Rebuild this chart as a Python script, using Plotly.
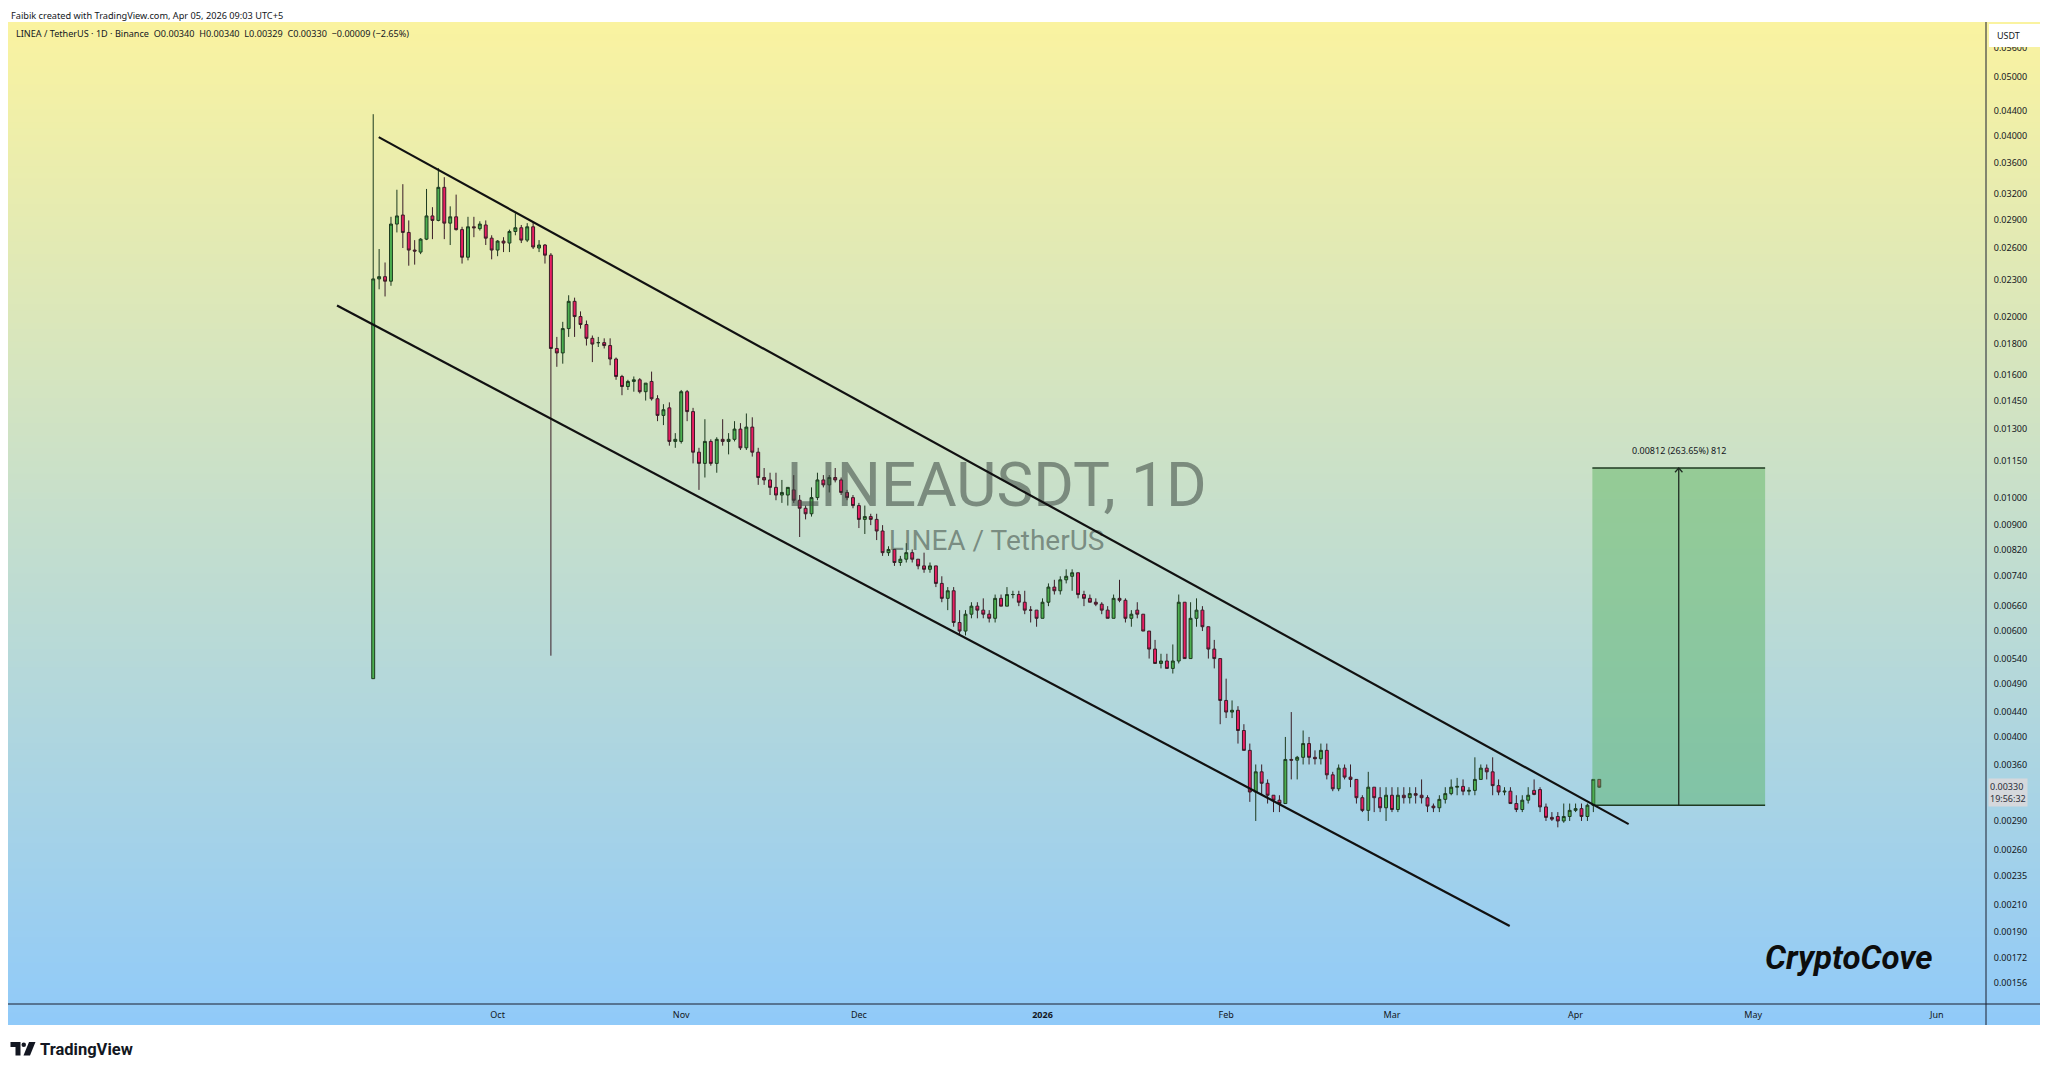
import numpy as np
import pandas as pd
import plotly.graph_objects as go

# ---------------- data ----------------
dates = pd.date_range("2025-09-10", periods=208, freq="D")

open_ = [0.00500,0.0231,0.0233,0.0229,0.0285,0.0295,0.0276,0.0258,0.0256,0.0269,
         0.0294,0.0289,0.0328,0.0286,0.0293,0.0279,0.0251,0.0282,0.0280,0.0284,
         0.0270,0.0258,0.0267,0.0265,0.0277,0.0281,0.0268,0.0282,0.0260,0.0263,
         0.0253,0.0177,0.0174,0.0191,0.0212,0.0200,0.0194,0.0184,0.0181,0.0181,
         0.0179,0.0170,0.0159,0.0153,0.0156,0.0157,0.0150,0.0156,0.0146,0.0137,
         0.0141,0.0124,0.0124,0.0150,0.0139,0.0119,0.0114,0.0124,0.0114,0.0125,
         0.0124,0.0125,0.0130,0.0121,0.0131,0.0119,0.0108,0.0107,0.0104,0.0101,
         0.0101,0.0103,0.0099,0.0096,0.0094,0.0100,0.0107,0.0105,0.0108,0.0107,
         0.0102,0.0100,0.0097,0.0092,0.0093,0.0092,0.0088,0.0081,0.0082,0.0078,
         0.0079,0.0081,0.0079,0.0077,0.0076,0.0077,0.0072,0.0068,0.0070,0.0062,
         0.0060,0.0064,0.0066,0.0065,0.0064,0.0063,0.0068,0.0066,0.0069,0.0069,
         0.0067,0.0065,0.0065,0.0063,0.0067,0.0071,0.0070,0.0073,0.0074,0.0075,
         0.0069,0.0068,0.0067,0.00665,0.0065,0.0063,0.0068,0.00675,0.0063,0.0065,
         0.0064,0.0060,0.0056,0.0053,0.00535,0.0052,0.00535,0.0067,0.0054,0.0063,
         0.0065,0.0061,0.0056,0.0054,0.0046,0.0044,0.00443,0.0041,0.0038,0.00324,
         0.0035,0.00335,0.0032,0.00314,0.0031,0.00367,0.00366,0.0037,0.0039,0.0037,
         0.00368,0.0038,0.00346,0.00328,0.00355,0.00343,0.0034,0.00317,0.00302,0.0033,
         0.00317,0.00305,0.0032,0.00303,0.0032,0.00317,0.00322,0.0032,0.00317,0.00307,
         0.00305,0.00315,0.00322,0.0033,0.00331,0.00325,0.00326,0.0034,0.00355,0.0035,
         0.00332,0.00324,0.00325,0.0031,0.00303,0.00314,0.00326,0.00327,0.00306,0.00294,
         0.00295,0.0029,0.00295,0.00302,0.00304,0.00295,0.00308,0.0034]

high = [0.0434,0.0259,0.0246,0.0293,0.0325,0.0332,0.0289,0.0268,0.0270,0.0326,
        0.0304,0.0353,0.0341,0.0305,0.0319,0.0282,0.0293,0.0293,0.0288,0.0289,
        0.0273,0.0268,0.0271,0.0279,0.0297,0.0284,0.0286,0.0287,0.0268,0.0264,
        0.0255,0.0185,0.0196,0.0217,0.0215,0.0204,0.0197,0.0186,0.0185,0.0184,
        0.0184,0.0171,0.0160,0.0157,0.0159,0.0158,0.0155,0.0162,0.0148,0.0143,
        0.0144,0.0128,0.0151,0.0151,0.0141,0.0121,0.0135,0.0125,0.0126,0.0135,
        0.0128,0.0134,0.0133,0.0138,0.0136,0.0121,0.0112,0.0110,0.0110,0.0107,
        0.0104,0.0109,0.0101,0.0097,0.0104,0.0110,0.0109,0.0109,0.0112,0.0108,
        0.0103,0.0101,0.0098,0.0097,0.0094,0.0094,0.0090,0.0083,0.0082,0.0080,
        0.0084,0.0082,0.0079,0.0081,0.0078,0.0077,0.0074,0.0071,0.0071,0.0065,
        0.0065,0.0067,0.0067,0.0068,0.0065,0.0069,0.0069,0.0071,0.0070,0.0070,
        0.0070,0.0066,0.0065,0.0068,0.0072,0.0073,0.0074,0.0076,0.0076,0.0075,
        0.0070,0.0069,0.0068,0.0067,0.0066,0.0069,0.0073,0.0068,0.0065,0.0067,
        0.0064,0.0060,0.0058,0.0055,0.0055,0.0057,0.0069,0.0067,0.0067,0.0068,
        0.0066,0.0061,0.0058,0.0054,0.0050,0.0046,0.0045,0.0042,0.0039,0.0036,
        0.0036,0.0034,0.0032,0.0032,0.0040,0.0044,0.00372,0.0041,0.0040,0.0038,
        0.0039,0.0039,0.0035,0.0036,0.0036,0.0036,0.0034,0.0032,0.0035,0.0033,
        0.0033,0.0033,0.0033,0.0033,0.0033,0.0033,0.0033,0.0034,0.0032,0.0031,
        0.0032,0.0033,0.0034,0.00342,0.0034,0.0033,0.0037,0.0036,0.0036,0.0037,
        0.0034,0.0033,0.0033,0.0032,0.0032,0.0033,0.0034,0.0033,0.0031,0.0030,
        0.0030,0.0031,0.0031,0.0031,0.0031,0.0031,0.0034,0.0034]

low = [0.00500,0.0222,0.0216,0.0225,0.0276,0.0260,0.0243,0.0244,0.0254,0.0268,
       0.0269,0.0288,0.0269,0.0263,0.0278,0.0245,0.0248,0.0271,0.0278,0.0263,
       0.0249,0.0252,0.0256,0.0256,0.0273,0.0265,0.0266,0.0259,0.0256,0.0245,
       0.00546,0.0165,0.0167,0.0185,0.0185,0.0191,0.0179,0.0168,0.0178,0.0177,
       0.0166,0.0157,0.0148,0.0151,0.0150,0.0149,0.0145,0.0145,0.0134,0.0132,
       0.0122,0.0121,0.0123,0.0134,0.0114,0.0103,0.0108,0.0113,0.0110,0.0122,
       0.0118,0.0124,0.0120,0.0120,0.0117,0.0105,0.0105,0.0101,0.0099,0.0098,
       0.0097,0.0098,0.0086,0.0092,0.0093,0.0099,0.0104,0.0102,0.0106,0.0101,
       0.0099,0.0096,0.0089,0.0087,0.0090,0.0085,0.0080,0.0080,0.0077,0.0077,
       0.0078,0.0078,0.0076,0.0075,0.0075,0.0071,0.0067,0.0065,0.0061,0.0059,
       0.0059,0.0063,0.0063,0.0063,0.0062,0.0062,0.0066,0.0066,0.0068,0.0066,
       0.0064,0.0062,0.0061,0.0063,0.0066,0.0069,0.0069,0.0072,0.0070,0.0068,
       0.0066,0.0067,0.0066,0.0064,0.0063,0.0063,0.0067,0.0062,0.0061,0.0063,
       0.0060,0.0054,0.0053,0.0052,0.0052,0.0051,0.0053,0.0054,0.0054,0.0061,
       0.0060,0.0054,0.0052,0.0042,0.0043,0.0043,0.0039,0.0038,0.00312,0.0029,
       0.0032,0.0031,0.0030,0.0030,0.0031,0.0034,0.0034,0.0036,0.0036,0.0036,
       0.0036,0.0034,0.00325,0.00325,0.0034,0.0033,0.0031,0.0030,0.0029,0.0030,
       0.0030,0.0029,0.0030,0.0030,0.0031,0.0031,0.0031,0.0031,0.0030,0.0030,
       0.0030,0.0031,0.0032,0.0032,0.0032,0.0032,0.0032,0.0034,0.0034,0.0032,
       0.0032,0.0032,0.0031,0.0030,0.0030,0.0031,0.0032,0.0030,0.0029,0.0029,
       0.00283,0.00288,0.0029,0.0030,0.0029,0.0029,0.0030,0.00329]

close = [0.0231,0.0233,0.0229,0.0285,0.0294,0.0276,0.0258,0.0257,0.0269,0.0294,
         0.0289,0.0328,0.0286,0.0293,0.0279,0.0251,0.0282,0.0281,0.0285,0.0270,
         0.0258,0.0267,0.0265,0.0277,0.0281,0.0268,0.0282,0.0261,0.0263,0.0253,
         0.0177,0.0174,0.0191,0.0212,0.0200,0.0194,0.0184,0.0180,0.0181,0.0179,
         0.0170,0.0159,0.0153,0.0156,0.0157,0.0150,0.0155,0.0146,0.0137,0.0140,
         0.0124,0.0125,0.0150,0.0139,0.0119,0.0114,0.0124,0.0114,0.0125,0.0124,
         0.0125,0.0130,0.0121,0.0131,0.0119,0.0108,0.0107,0.0104,0.0101,0.0102,
         0.0104,0.0099,0.0096,0.0094,0.0100,0.0107,0.0105,0.0108,0.0107,0.0102,
         0.0100,0.0097,0.0092,0.0093,0.0092,0.0088,0.0081,0.0082,0.0078,0.0079,
         0.0081,0.0079,0.0077,0.0076,0.0077,0.0072,0.0068,0.0070,0.0062,0.0060,
         0.0064,0.0066,0.0065,0.0064,0.0063,0.0068,0.0066,0.0069,0.0069,0.0067,
         0.0065,0.0065,0.0063,0.0067,0.0071,0.0070,0.0073,0.0074,0.0075,0.0069,
         0.0068,0.0067,0.00665,0.0065,0.0063,0.0068,0.00675,0.0063,0.0064,0.0064,
         0.0060,0.0056,0.0053,0.00535,0.0052,0.00535,0.0067,0.0054,0.0063,0.0065,
         0.0061,0.0056,0.0054,0.0046,0.0044,0.00443,0.0041,0.0038,0.00324,0.0035,
         0.00335,0.0032,0.00314,0.0031,0.00367,0.00366,0.0037,0.0039,0.0037,0.00368,
         0.0038,0.00346,0.00328,0.00355,0.00343,0.0034,0.00317,0.00302,0.0033,0.00317,
         0.00305,0.0032,0.00303,0.0032,0.00317,0.00322,0.0032,0.00317,0.00307,0.00305,
         0.00315,0.00322,0.0033,0.00331,0.00325,0.00326,0.0034,0.00355,0.0035,0.00332,
         0.00324,0.00325,0.0031,0.00303,0.00314,0.0032,0.00321,0.00306,0.00294,0.00292,
         0.0029,0.00295,0.00302,0.00304,0.00295,0.00308,0.0034,0.0033]

# channel (trend lines) drawn on the chart
upper_line_dates = ["2025-09-10 22:20", "2026-04-09 23:00"]
upper_line_prices = [0.03975, 0.002865]
lower_line_dates = ["2025-09-03 21:20", "2026-03-20 21:00"]
lower_line_prices = [0.02086, 0.001940]

# price-range measurement box
range_dates = ["2026-04-03 20:00", "2026-05-03 00:00"]
range_prices = [0.00308, 0.01120]
range_label = "0.00812 (263.65%) 812"

# axis ticks
price_ticks = [0.056, 0.05, 0.044, 0.04, 0.036, 0.032, 0.029, 0.026, 0.023, 0.02,
               0.018, 0.016, 0.0145, 0.013, 0.0115, 0.01, 0.009, 0.0082, 0.0074,
               0.0066, 0.006, 0.0054, 0.0049, 0.0044, 0.004, 0.0036, 0.0029,
               0.0026, 0.00235, 0.0021, 0.0019, 0.00172, 0.00156]
month_ticks = ["2025-10-01", "2025-11-01", "2025-12-01", "2026-01-01", "2026-02-01",
               "2026-03-01", "2026-04-01", "2026-05-01", "2026-06-01"]
month_labels = ["Oct", "Nov", "Dec", "<b>2026</b>", "Feb", "Mar", "Apr", "May", "Jun"]

# ---------------- layout geometry (window pixels; page body has an 8px margin) ----------------
OFF = 8
W, H = 2048 - OFF, 1074 - 2 * OFF
L, R, T, B = 8, 1986, 22, 1004  # plot area in window pixels


def pxx(x):
    return (x - L) / (R - L)


def pxy(y):
    return (B - y) / (B - T)


FONT = "Noto Sans"
TXT = "#131722"
WM = "rgba(58,70,64,0.55)"

fig = go.Figure()

# watermark (behind candles)
fig.add_trace(go.Scatter(x=[pd.Timestamp("2025-12-24 06:00")], y=[0.01026], mode="text",
                         text=["LINEAUSDT, 1D"],
                         textfont=dict(family="Roboto", size=62, color=WM),
                         showlegend=False, hoverinfo="skip"))
fig.add_trace(go.Scatter(x=[pd.Timestamp("2025-12-24 06:00")], y=[0.0084], mode="text",
                         text=["LINEA / TetherUS"],
                         textfont=dict(family="Roboto", size=28, color=WM),
                         showlegend=False, hoverinfo="skip"))

# measurement box fill
rx0, rx1 = pd.Timestamp(range_dates[0]), pd.Timestamp(range_dates[1])
fig.add_trace(go.Scatter(x=[rx0, rx1, rx1, rx0, rx0],
                         y=[range_prices[0], range_prices[0], range_prices[1], range_prices[1], range_prices[0]],
                         mode="lines", fill="toself", fillcolor="rgba(76,175,80,0.42)",
                         line=dict(width=0), showlegend=False, hoverinfo="skip"))
for pv in range_prices:
    fig.add_trace(go.Scatter(x=[rx0, rx1], y=[pv, pv], mode="lines",
                             line=dict(color="#1f3a22", width=1.5),
                             showlegend=False, hoverinfo="skip"))
amid = rx0 + (rx1 - rx0) / 2
fig.add_trace(go.Scatter(x=[amid, amid], y=range_prices, mode="lines",
                         line=dict(color="#1f2a22", width=1.3), showlegend=False, hoverinfo="skip"))
fig.add_trace(go.Scatter(x=[amid - pd.Timedelta(hours=15), amid, amid + pd.Timedelta(hours=15)],
                         y=[range_prices[1] * 0.984, range_prices[1], range_prices[1] * 0.984],
                         mode="lines", line=dict(color="#1f2a22", width=1.3),
                         showlegend=False, hoverinfo="skip"))

# candles
fig.add_trace(go.Candlestick(
    x=dates, open=open_, high=high, low=low, close=close,
    increasing=dict(line=dict(color="#1d3a1f", width=1), fillcolor="#4caf50"),
    decreasing=dict(line=dict(color="#3a1d27", width=1), fillcolor="#e91e63"),
    whiskerwidth=0, showlegend=False, hoverinfo="skip"))

# channel lines
fig.add_trace(go.Scatter(x=pd.to_datetime(upper_line_dates), y=upper_line_prices, mode="lines",
                         line=dict(color="#111111", width=2.2), showlegend=False, hoverinfo="skip"))
fig.add_trace(go.Scatter(x=pd.to_datetime(lower_line_dates), y=lower_line_prices, mode="lines",
                         line=dict(color="#111111", width=2.2), showlegend=False, hoverinfo="skip"))

# ---------------- background gradient ----------------
shapes = []
top_c = np.array([250, 243, 160])
bot_c = np.array([144, 202, 249])
g_top, g_bot = 22, 1025
n = 160
for k in range(n):
    y0 = g_top + (g_bot - g_top) * k / n
    y1 = g_top + (g_bot - g_top) * (k + 1) / n + 0.8
    t = (k + 0.5) / n
    c = top_c * (1 - t) + bot_c * t
    shapes.append(dict(type="rect", xref="paper", yref="paper", layer="below",
                       x0=pxx(6), x1=pxx(2040), y0=pxy(min(y1, g_bot)), y1=pxy(y0),
                       fillcolor="rgb(%d,%d,%d)" % tuple(c.round().astype(int)),
                       line=dict(width=0)))

# axis separator lines
shapes.append(dict(type="line", xref="paper", yref="paper", layer="above",
                   x0=pxx(R), x1=pxx(R), y0=pxy(1025), y1=pxy(22),
                   line=dict(color="#1a1f2e", width=1)))
shapes.append(dict(type="line", xref="paper", yref="paper", layer="above",
                   x0=pxx(6), x1=pxx(2040), y0=pxy(B), y1=pxy(B),
                   line=dict(color="#1a1f2e", width=1)))
# USDT badge
shapes.append(dict(type="rect", xref="paper", yref="paper", layer="above",
                   x0=pxx(1989), x1=pxx(2040), y0=pxy(47), y1=pxy(24),
                   fillcolor="white", line=dict(width=0)))


# TradingView logo glyph
def path_px(points):
    return "M " + " L ".join("%.5f,%.5f" % (pxx(a), pxy(b)) for a, b in points) + " Z"


shapes.append(dict(type="path", xref="paper", yref="paper",
                   path=path_px([(10.5, 1042), (20.5, 1042), (20.5, 1055.5), (15.5, 1055.5),
                                 (15.5, 1047), (10.5, 1047)]),
                   fillcolor="#131722", line=dict(width=0)))
shapes.append(dict(type="circle", xref="paper", yref="paper",
                   x0=pxx(21.5), x1=pxx(26), y0=pxy(1047), y1=pxy(1042.5),
                   fillcolor="#131722", line=dict(width=0)))
shapes.append(dict(type="path", xref="paper", yref="paper",
                   path=path_px([(29, 1042), (35.5, 1042), (30, 1055.5), (23.5, 1055.5)]),
                   fillcolor="#131722", line=dict(width=0)))

# ---------------- annotations ----------------
NB = "\u00a0"
ann = []
ann.append(dict(xref="paper", yref="paper", x=pxx(10), y=pxy(8.5), xanchor="left", yanchor="top",
                text="Faibik created with TradingView.com, Apr 05, 2026 09:03 UTC+5", borderpad=0,
                showarrow=False, font=dict(family=FONT, size=9.2, color=TXT)))
hdr = ("LINEA / TetherUS · 1D · Binance" + NB * 2 + "O0.00340" + NB * 2 + "H0.00340" + NB * 2 +
       "L0.00329" + NB * 2 + "C0.00330" + NB * 2 + "−0.00009 (−2.65%)")
ann.append(dict(xref="paper", yref="paper", x=pxx(14), y=pxy(33), xanchor="left", yanchor="middle",
                text=hdr, showarrow=False, font=dict(family=FONT, size=9.1, color=TXT)))
ann.append(dict(xref="paper", yref="paper", x=pxx(1995), y=pxy(35), xanchor="left", yanchor="middle",
                text="USDT", showarrow=False, font=dict(family=FONT, size=9, color=TXT)))
# last price label
ann.append(dict(xref="paper", yref="y", x=pxx(1988), y=np.log10(close[-1]), yshift=-5,
                xanchor="left", yanchor="middle", align="left",
                text="0.00330<br>19:56:32", showarrow=False, bgcolor="#d5d8dc",
                borderpad=1, font=dict(family=FONT, size=9, color="#2a2e39")))
# measurement label
ann.append(dict(xref="x", yref="y", x=amid, y=np.log10(range_prices[1]), yshift=18,
                xanchor="center", yanchor="middle", text=range_label, showarrow=False,
                font=dict(family=FONT, size=9, color=TXT)))
# CryptoCove
ann.append(dict(xref="paper", yref="paper", x=pxx(1849), y=pxy(957), xanchor="center", yanchor="middle",
                text="<b><i>CryptoCove</i></b>", showarrow=False,
                font=dict(family="Roboto", size=33, color="#0d0d0d")))
# TradingView wordmark
ann.append(dict(xref="paper", yref="paper", x=pxx(38), y=pxy(1049), xanchor="left", yanchor="middle",
                text="<b>TradingView</b>", showarrow=False,
                font=dict(family="Roboto", size=16.5, color="#131722")))

fig.update_layout(
    width=W, height=H,
    margin=dict(l=L - OFF, r=W - (R - OFF), t=T - OFF, b=H - (B - OFF), pad=0),
    paper_bgcolor="white", plot_bgcolor="rgba(0,0,0,0)",
    shapes=shapes, annotations=ann, showlegend=False,
    xaxis=dict(type="date", range=["2025-07-10 08:10", "2026-06-09 07:00"],
               rangeslider=dict(visible=False), showgrid=False, zeroline=False, showline=False,
               tickmode="array", tickvals=month_ticks, ticktext=month_labels,
               ticks="outside", ticklen=2, tickcolor="rgba(0,0,0,0)",
               tickfont=dict(family=FONT, size=9, color=TXT)),
    yaxis=dict(type="log", side="right", range=[np.log10(0.001439), np.log10(0.06177)],
               showgrid=False, zeroline=False, showline=False,
               tickmode="array", tickvals=price_ticks, ticktext=["%.5f" % v for v in price_ticks],
               ticks="outside", ticklen=5, tickcolor="rgba(0,0,0,0)",
               tickfont=dict(family=FONT, size=9, color=TXT)),
    hovermode=False,
)

fig.write_html("out.html")
